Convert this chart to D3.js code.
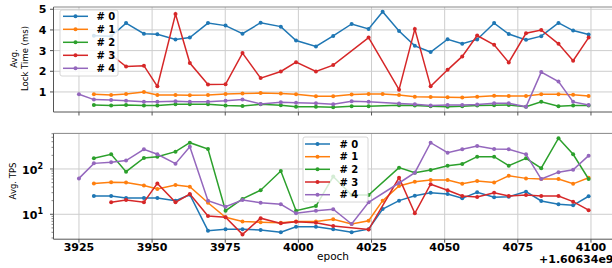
<!DOCTYPE html>
<html><head><meta charset="utf-8">
<script src="https://cdn.jsdelivr.net/npm/d3@7"></script>
<style>body{margin:0;background:#fff}svg{display:block}text{font-family:"DejaVu Sans",sans-serif}</style>
</head><body><svg id="c" width="612" height="268"></svg>
<script>
const epochs = [3925,3930.1,3936.0,3941.1,3947.2,3951.8,3958.0,3962.9,3969.1,3975.1,3980.9,3987.1,3994.0,3999.2,4006.0,4011.9,4018.2,4024.0,4028.8,4034.4,4039.8,4045.2,4051.0,4056.0,4061.1,4066.9,4071.9,4077.8,4083.0,4088.9,4093.9,4099.2];
const seriesNames = ["# 0","# 1","# 2","# 3","# 4"];
const colors = ["#1f77b4","#ff7f0e","#2ca02c","#d62728","#9467bd"];
const lock0 = [null,3.72,3.69,4.33,3.82,3.79,3.54,3.63,4.33,4.21,3.82,4.35,4.16,3.49,3.20,3.71,4.29,4.05,4.88,3.95,3.23,2.93,3.55,3.33,3.54,4.33,3.80,3.52,3.70,4.34,3.97,3.78];
const lock1 = [null,0.89,0.85,0.90,1.00,0.85,0.85,0.84,0.85,0.90,0.92,0.95,0.92,0.89,0.79,0.79,0.88,0.90,0.90,0.85,0.77,0.76,0.74,0.73,0.77,0.82,0.81,0.81,0.89,0.89,0.87,0.81];
const lock2 = [null,0.37,0.34,0.37,0.34,0.34,0.40,0.40,0.40,0.34,0.32,0.40,0.36,0.28,0.29,0.26,0.31,0.31,null,0.36,0.34,0.31,0.28,0.31,0.34,0.36,0.37,0.28,0.52,0.31,0.34,0.34];
const lock3 = [null,null,2.80,2.23,2.27,1.27,4.77,2.40,1.36,1.37,2.88,1.67,1.99,2.44,1.99,2.30,null,3.63,null,1.11,4.04,1.27,2.07,2.72,3.73,3.28,2.43,3.84,4.00,3.33,2.51,3.63];
const lock4 = [0.89,0.63,0.61,0.58,0.52,0.53,0.55,0.52,0.53,0.57,0.63,0.42,0.50,0.48,0.45,0.40,0.55,0.52,null,0.44,0.40,0.34,0.37,0.37,0.39,0.45,0.45,0.28,1.96,1.50,0.52,0.37];
const tps0 = [null,25.4,25.4,22.9,22.9,22.9,20,27,4.35,4.7,4.7,4.5,4.0,5.3,5.3,4.7,4.0,4.7,13.1,20,25.7,30,28,22.5,30.5,23.7,24.5,31.6,19.7,16.6,15.8,25];
const tps1 = [null,48,51,50,43,36,44,40.7,18,8.6,6.9,6.7,6.5,6.9,6.9,7.8,6.1,7.2,20,42,52,57,57,47,54,50,71,62,60,60,47,64];
const tps2 = [null,172,211,87,175,187,241,380,276,12,21.8,34,90,12,15.2,68,26.7,26.7,null,107,83,95,118,129,187,187,118,172,104,477,211,60];
const tps3 = [null,null,18.4,20.7,18.4,48,18.4,28,9.2,8.6,3.6,8.2,6.3,6.8,6.5,5.5,null,4.6,null,64,10.5,46,34,25.4,24,30,25.4,26.7,25.4,25.4,19,12.3];
const tps4 = [62,133,141,153,272,211,131,310,20,14.7,20.7,18,16.6,10.5,12,12.9,6.1,18.4,null,49,83,380,229,272,322,277,272,211,60,85,96,197];
const xTicks = [3925,3950,3975,4000,4025,4050,4075,4100];
const lockTicks = [1,2,3,4,5];
const tpsTicks = [10,100];
const tpsTickLabels = [["10","1"],["10","2"]];

const svg = d3.select("#c");
const L = 53.5, R = 613.5;
const x = d3.scaleLinear().domain([3916.3,4107.7]).range([L,R]);
const yT = d3.scaleLinear().domain([0.03,5.11]).range([112,7]);
const yB = d3.scaleLog().domain([Math.pow(10,0.45),Math.pow(10,2.785)]).range([239.2,133.4]);
const axisCol = "#555", gridCol = "#cdcdcd";

function panel(y, top, bot, data, ticksY, isLog){
  const g = svg.append("g");
  g.selectAll(".gx").data(xTicks).join("line").attr("x1",d=>x(d)).attr("x2",d=>x(d)).attr("y1",top).attr("y2",bot).attr("stroke",gridCol).attr("stroke-width",1);
  g.selectAll(".gy").data(ticksY).join("line").attr("x1",L).attr("x2",R).attr("y1",d=>y(d)).attr("y2",d=>y(d)).attr("stroke",gridCol).attr("stroke-width",1);
  data.forEach((vals,i)=>{
    const pts = epochs.map((e,j)=>[e,vals[j]]).filter(p=>p[1]!==null);
    g.append("path").attr("d",d3.line().x(p=>x(p[0])).y(p=>y(p[1]))(pts)).attr("fill","none").attr("stroke",colors[i]).attr("stroke-width",1.5);
    g.selectAll(null).data(pts).join("circle").attr("cx",p=>x(p[0])).attr("cy",p=>y(p[1])).attr("r",2).attr("fill",colors[i]);
  });
  g.append("line").attr("x1",L).attr("x2",L).attr("y1",top).attr("y2",bot).attr("stroke",axisCol);
  g.append("line").attr("x1",L).attr("x2",R).attr("y1",bot).attr("y2",bot).attr("stroke",axisCol);
  g.append("line").attr("x1",L).attr("x2",R).attr("y1",top).attr("y2",top).attr("stroke","#888");
  g.selectAll(".tx").data(xTicks).join("line").attr("x1",d=>x(d)).attr("x2",d=>x(d)).attr("y1",bot).attr("y2",bot+3.5).attr("stroke",axisCol);
  g.selectAll(".ty").data(ticksY).join("line").attr("x1",L-3.5).attr("x2",L).attr("y1",d=>y(d)).attr("y2",d=>y(d)).attr("stroke",axisCol);
  if(isLog){
    const minor=[];
    [1,10,100].forEach(b=>{for(let k=2;k<10;k++){const v=b*k; if(v>=y.domain()[0]&&v<=y.domain()[1]) minor.push(v);}});
    g.selectAll(".tm").data(minor).join("line").attr("x1",L-2).attr("x2",L).attr("y1",d=>y(d)).attr("y2",d=>y(d)).attr("stroke",axisCol).attr("stroke-width",0.7);
  }
  return g;
}

const gT = panel(yT,7,112,[lock0,lock1,lock2,lock3,lock4],lockTicks,false);
gT.selectAll(".yl").data(lockTicks).join("text").attr("x",46.5).attr("y",d=>yT(d)).attr("dy","0.36em").attr("text-anchor","end").attr("font-size",11).attr("font-weight","bold").text(d=>d);
const gB = panel(yB,133.4,239.2,[tps0,tps1,tps2,tps3,tps4],tpsTicks,true);
tpsTicks.forEach((t,i)=>{
  const tx = gB.append("text").attr("x",43).attr("y",yB(t)).attr("dy","0.42em").attr("text-anchor","end").attr("font-size",11).attr("font-weight","bold");
  tx.append("tspan").text(tpsTickLabels[i][0]);
  tx.append("tspan").attr("font-size",8).attr("dy","-0.55em").text(tpsTickLabels[i][1]);
});
gB.selectAll(".xl").data(xTicks).join("text").attr("x",d=>x(d)).attr("y",250.5).attr("text-anchor","middle").attr("font-size",11).attr("font-weight","bold").text(d=>d);

svg.append("text").attr("x",333).attr("y",260).attr("text-anchor","middle").attr("font-size",10.5).text("epoch");
svg.append("text").attr("x",R).attr("y",263).attr("text-anchor","end").attr("font-size",11).attr("font-weight","bold").text("+1.60634e9");
const yl = svg.append("text").attr("transform","translate(16.5,58.5) rotate(-90)").attr("text-anchor","middle").attr("font-size",8.5);
yl.append("tspan").attr("x",0).attr("dy",0).text("Avg.");
yl.append("tspan").attr("x",0).attr("dy","1.4em").text("Lock Time (ms)");
svg.append("text").attr("transform","translate(15.5,181) rotate(-90)").attr("text-anchor","middle").attr("font-size",8.5).text("Avg. TPS");

function legend(bx,by,bw,bh,rows,lx0,lx1,tx){
  const g = svg.append("g");
  g.append("rect").attr("x",bx).attr("y",by).attr("width",bw).attr("height",bh).attr("rx",2).attr("fill","rgba(255,255,255,0.8)").attr("stroke","#ccc").attr("stroke-width",0.8);
  seriesNames.forEach((n,i)=>{
    const yy = rows[i];
    g.append("line").attr("x1",lx0).attr("x2",lx1).attr("y1",yy).attr("y2",yy).attr("stroke",colors[i]).attr("stroke-width",1.5);
    g.append("circle").attr("cx",(lx0+lx1)/2).attr("cy",yy).attr("r",2).attr("fill",colors[i]);
    g.append("text").attr("x",tx).attr("y",yy).attr("dy","0.36em").attr("font-size",10).attr("font-weight","bold").text(n);
  });
}
legend(60,10,58,66,[16.3,29.3,42.3,55.3,68.3],63,88,96.5);
legend(303,137,65,65,[144,156.7,169.3,182,194.7],305,330,339.5);
</script></body></html>
